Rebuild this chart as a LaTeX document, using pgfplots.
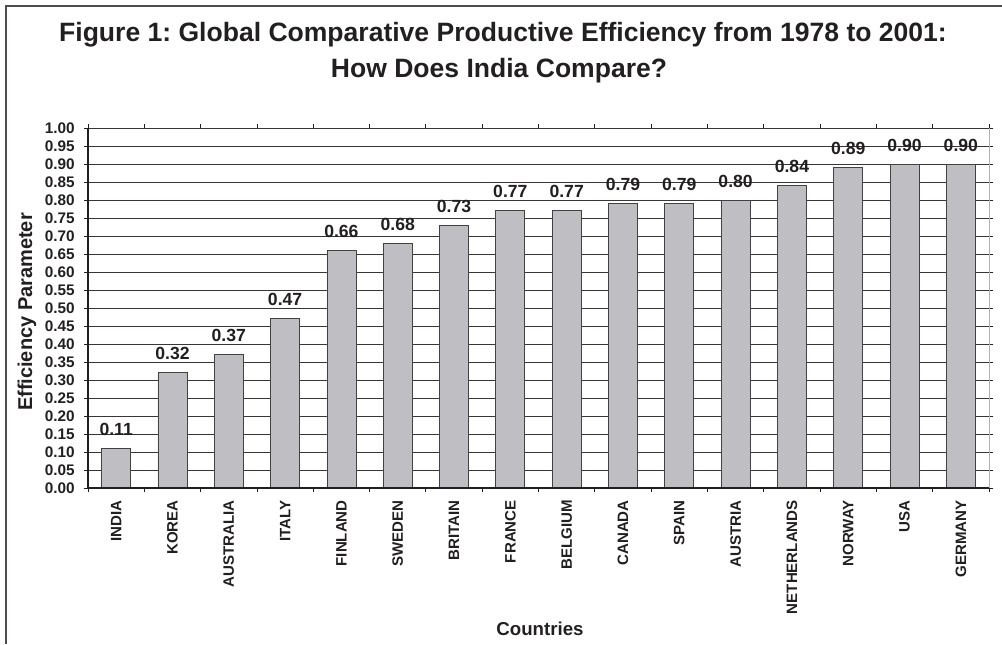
\documentclass[border=0pt]{standalone}
\usepackage{fontspec}
\setmainfont{Liberation Sans}
\usepackage{pgfplots}
\pgfplotsset{compat=1.18}
\frenchspacing

\definecolor{bargray}{RGB}{191,191,195}
\definecolor{inkgray}{RGB}{35,31,32}

\begin{document}
\begin{tikzpicture}[x=0.75pt,y=0.75pt]
  % page frame (1002 x 644 px grid, 1px = 0.75pt)
  \path[use as bounding box] (0,0) rectangle (1002,644);
  \draw[inkgray!80, line width=0.9pt] (6,0) -- (6,638) -- (1002,638);

  % title
  \node[anchor=base, inner sep=0pt, text=inkgray] at (503,602)
    {\fontsize{19.9}{23}\selectfont\bfseries Figure 1: Global Comparative Productive Efficiency from 1978 to 2001:};
  \node[anchor=base, inner sep=0pt, text=inkgray] at (499,566)
    {\fontsize{19.9}{23}\selectfont\bfseries How Does India Compare?};

  \begin{axis}[
      at={(66pt,117pt)}, anchor=south west,
      scale only axis, width=675.75pt, height=270pt,
      xmin=-0.5, xmax=15.5, ymin=0, ymax=1,
      clip=false,
      axis line style={draw=none},
      /pgf/number format/assume math mode=true,
      ytick={0,0.05,0.10,0.15,0.20,0.25,0.30,0.35,0.40,0.45,0.50,0.55,0.60,0.65,0.70,0.75,0.80,0.85,0.90,0.95,1.00},
      yticklabel style={/pgf/number format/.cd, fixed, fixed zerofill, precision=2, /tikz/.cd,
        font=\fontsize{11.5}{13}\selectfont\bfseries, text=inkgray, inner sep=0pt},
      yticklabel shift=6.75pt,
      ymajorgrids,
      grid style={inkgray!90, line width=0.6pt},
      xtick={0,...,15},
      xticklabels={INDIA,KOREA,AUSTRALIA,ITALY,FINLAND,SWEDEN,BRITAIN,FRANCE,BELGIUM,CANADA,SPAIN,AUSTRIA,NETHERLANDS,NORWAY,USA,GERMANY},
      xticklabel style={rotate=90, anchor=east, inner sep=0pt,
        font=\fontsize{11.3}{13}\selectfont\bfseries, text=inkgray},
      xticklabel shift=6pt,
      minor xtick={-0.5,0.5,...,15.5},
      major x tick style={draw=none},
      tick style={inkgray, line width=0.6pt},
      tick align=outside,
      major tick length=3pt,
      minor tick length=3pt,
      after end axis/.code={
        \draw[inkgray, line width=0.8pt] (rel axis cs:0,1) -- (rel axis cs:0,0) -- (rel axis cs:1,0);
        \draw[gray!60, line width=0.6pt] (rel axis cs:1,0) -- (rel axis cs:1,1);
      },
    ]
    \addplot[ybar, bar width=21.75pt, fill=bargray, draw=inkgray!85, line width=0.6pt,
      nodes near coords,
      nodes near coords style={anchor=base, inner sep=0pt, yshift=9.75pt,
        font=\fontsize{13.2}{16}\selectfont\bfseries, text=inkgray,
        /pgf/number format/.cd, fixed, fixed zerofill, precision=2}]
      coordinates {
        (0,0.11) (1,0.32) (2,0.37) (3,0.47) (4,0.66) (5,0.68) (6,0.73) (7,0.77)
        (8,0.77) (9,0.79) (10,0.79) (11,0.80) (12,0.84) (13,0.89) (14,0.90) (15,0.90)
      };
  \end{axis}

  % axis titles
  \node[rotate=90, anchor=center, inner sep=0pt, text=inkgray] at (27,332)
    {\fontsize{15}{18}\selectfont\bfseries Efficiency Parameter};
  \node[anchor=base, inner sep=0pt, text=inkgray] at (540,9)
    {\fontsize{14}{17}\selectfont\bfseries Countries};
\end{tikzpicture}
\end{document}
